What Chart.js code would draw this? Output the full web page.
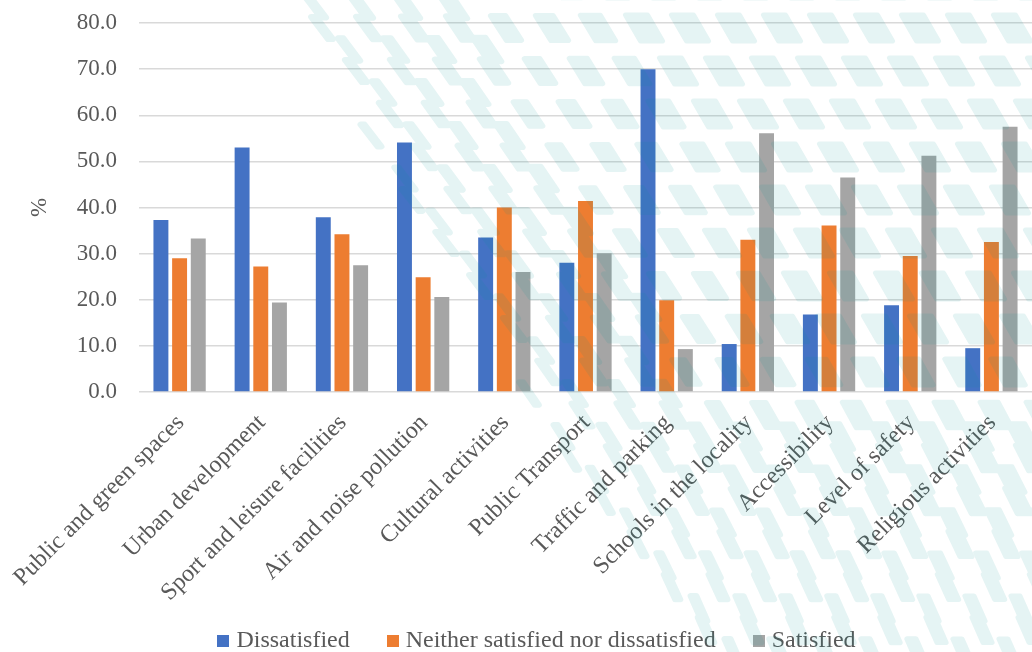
<!DOCTYPE html>
<html>
<head>
<meta charset="utf-8">
<script src="https://cdn.jsdelivr.net/npm/chart.js@4/dist/chart.umd.min.js"></script>
<style>
  html, body { margin: 0; padding: 0; background: #ffffff; overflow: hidden; }
  #wrap { position: relative; width: 1032px; height: 652px; }
</style>
</head>
<body>
<div id="wrap"><canvas id="c" width="1032" height="652"></canvas></div>
<script>
// Survey aspects of the locality and the share of answers (%)
const categories = [
  'Public and green spaces', 'Urban development', 'Sport and leisure facilities',
  'Air and noise pollution', 'Cultural activities', 'Public Transport',
  'Traffic and parking', 'Schools in the locality', 'Accessibility',
  'Level of safety', 'Religious activities'
];
const seriesNames = ['Dissatisfied', 'Neither satisfied nor dissatisfied', 'Satisfied'];
const dissatisfied = [37.3, 53.0, 37.9, 54.1, 33.5, 28.0, 70.0, 10.4, 16.8, 18.8, 9.5];
const neither      = [29.0, 27.2, 34.2, 24.9, 40.0, 41.4, 19.9, 33.0, 36.1, 29.5, 32.5];
const satisfied    = [33.3, 19.4, 27.5, 20.6, 26.0, 30.1,  9.3, 56.1, 46.5, 51.2, 57.5];
const yTicks = [0, 10, 20, 30, 40, 50, 60, 70, 80];

const colors = ['#4472C4', '#ED7D31', '#A5A5A5'];
const textColor = '#595959';
const fontFamily = "'Liberation Serif', 'Times New Roman', serif";
Chart.defaults.font.family = fontFamily;
Chart.defaults.color = textColor;

// small square swatches for the legend
const swatches = colors.map(col => {
  const s = document.createElement('canvas');
  s.width = 12; s.height = 12;
  const g = s.getContext('2d');
  g.fillStyle = col;
  g.fillRect(0, 0, 12, 12);
  return s;
});

// decorative lattice of soft teal leaves in the background band
function drawLeafBand(chart) {
  const W = chart.width, H = chart.height;
  const off = document.createElement('canvas');
  off.width = W; off.height = H;
  const c = off.getContext('2d');
  c.fillStyle = c.strokeStyle = 'rgb(0,150,150)';
  c.lineJoin = 'round';
  const edge = y => 288 + 0.62 * y;
  const clamp = (v, a, b) => Math.max(a, Math.min(b, v));
  const lerp = (a, b, t) => a + (b - a) * t;

  function leaf(cx, cy) {
    const d = cx - edge(cy);
    if (d < -4) return;
    const f = clamp(d / 330, 0, 1);
    const g = clamp((cy - 330) / 280, 0, 1);
    let w = lerp(4, 22, f), h = lerp(22, 26, f), s = lerp(17, 15, f);
    w = lerp(w, Math.min(w, 9), g);
    s = lerp(s, 11, g);
    h = lerp(h, 25, g);
    c.lineWidth = lerp(6, 5, f);
    c.beginPath();
    c.moveTo(cx - w / 2 - s / 2, cy - h / 2);
    c.lineTo(cx + w / 2 - s / 2, cy - h / 2);
    c.lineTo(cx + w / 2 + s / 2, cy + h / 2);
    c.lineTo(cx - w / 2 + s / 2, cy + h / 2);
    c.closePath();
    c.fill();
    c.stroke();
  }

  const sx = 46, sy = 43;
  for (let row = -1; row < 18; row++) {
    const y = 28 + row * sy;
    for (let col = -4; col < 36; col++) {
      const x = col * sx - row * 12;
      leaf(x, y);
      const hx = x + sx / 2 + 4, hy = y + sy / 2;
      const dd = hx - edge(hy);
      const bottomish = hy > 420;
      if (dd > -4 && (dd < 170 || bottomish)) leaf(hx, hy);
    }
  }
  const ctx = chart.ctx;
  ctx.save();
  ctx.globalAlpha = 0.10;
  ctx.drawImage(off, 0, 0);
  ctx.restore();
}

const placement = {
  id: 'placement',
  afterLayout(chart) {
    const lg = chart.legend;
    if (!lg) return;
    const pad = lg.options.labels.padding;
    lg.top = 641 - 12 - pad;
    lg.bottom = chart.height;
    const dx = 22;
    lg.left += dx; lg.right += dx;
  },
  afterDraw(chart) { drawLeafBand(chart); }
};

new Chart(document.getElementById('c'), {
  type: 'bar',
  data: {
    labels: categories,
    datasets: [
      { label: seriesNames[0], data: dissatisfied, backgroundColor: colors[0] },
      { label: seriesNames[1], data: neither, backgroundColor: colors[1] },
      { label: seriesNames[2], data: satisfied, backgroundColor: colors[2] }
    ]
  },
  options: {
    responsive: false,
    animation: false,
    devicePixelRatio: 1,
    categoryPercentage: 0.69,
    barPercentage: 0.8,
    layout: { padding: { left: 0, right: -2, top: 23, bottom: 0 } },
    scales: {
      x: {
        grid: { display: false },
        border: { display: false },
        ticks: {
          autoSkip: false, maxRotation: 45, minRotation: 45,
          color: textColor, padding: 9, labelOffset: 1,
          font: { family: fontFamily, size: 24 }
        },
        afterFit(scale) {
          const lh = scale.chart.legend ? scale.chart.legend.height : 0;
          scale.height = 652 - 392 - lh;
        }
      },
      y: {
        min: 0, max: 80,
        afterBuildTicks(scale) { scale.ticks = yTicks.map(v => ({ value: v })); },
        grid: { color: '#D9D9D9', lineWidth: 1.5, drawTicks: false },
        border: { display: false },
        ticks: {
          color: textColor, padding: 22,
          font: { family: fontFamily, size: 23 },
          callback: v => Number(v).toFixed(1)
        },
        title: {
          display: true, text: '%', color: textColor,
          font: { family: fontFamily, size: 23 },
          padding: { top: 26, bottom: 0 }
        },
        afterFit(scale) {
          scale.width = 139;
          scale.paddingTop = 0;
          scale.paddingBottom = 0;
        }
      }
    },
    plugins: {
      legend: {
        position: 'bottom',
        maxHeight: 30,
        labels: {
          usePointStyle: true,
          pointStyleWidth: 2,
          padding: 42,
          color: textColor,
          font: { family: fontFamily, size: 24 },
          generateLabels(chart) {
            const items = Chart.defaults.plugins.legend.labels.generateLabels(chart);
            items.forEach((it, i) => { it.pointStyle = swatches[i]; it.lineWidth = 0; });
            return items;
          }
        }
      },
      tooltip: { enabled: false }
    }
  },
  plugins: [placement]
});
</script>
</body>
</html>
